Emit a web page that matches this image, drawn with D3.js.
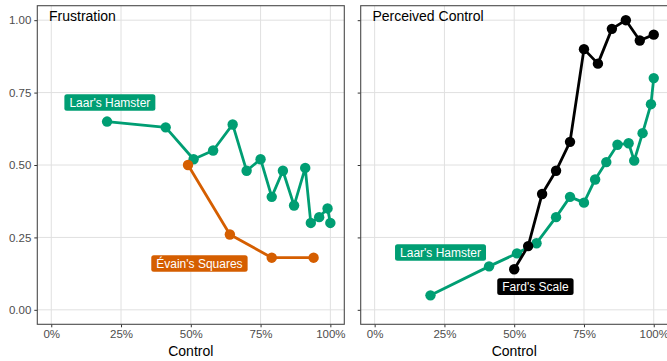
<!DOCTYPE html>
<html>
<head>
<meta charset="utf-8">
<script src="https://cdn.jsdelivr.net/npm/d3@7"></script>
<style>
  html, body { margin: 0; padding: 0; background: #fff; }
  svg { display: block; font-family: "Liberation Sans", Arial, Helvetica, sans-serif; }
</style>
</head>
<body>
<svg id="chart" width="667" height="361"></svg>
<script>
// Control levels (share of trials with control) for each task
const hamsterControl = [0.20, 0.41, 0.51, 0.58, 0.65, 0.70, 0.75, 0.79, 0.83, 0.87, 0.91, 0.93, 0.96, 0.99, 1.00];
const evainControl   = [0.49, 0.64, 0.79, 0.94];
const fardControl    = [0.50, 0.55, 0.60, 0.65, 0.70, 0.75, 0.80, 0.85, 0.90, 0.95, 1.00];

// Outcome: frustration
const hamsterFrustration = [0.65, 0.63, 0.52, 0.55, 0.64, 0.48, 0.52, 0.39, 0.48, 0.36, 0.49, 0.30, 0.32, 0.35, 0.30];
const evainFrustration   = [0.50, 0.26, 0.18, 0.18];

// Outcome: perceived control
const hamsterPerceived = [0.05, 0.15, 0.195, 0.23, 0.32, 0.39, 0.37, 0.45, 0.51, 0.57, 0.575, 0.515, 0.61, 0.71, 0.80];
const fardPerceived    = [0.14, 0.22, 0.40, 0.48, 0.58, 0.90, 0.85, 0.97, 1.00, 0.93, 0.95];

const panelTitles = ["Frustration", "Perceived Control"];
const xTicks = [0, 0.25, 0.5, 0.75, 1];
const yTicks = [0, 0.25, 0.5, 0.75, 1];
const xTitle = "Control";

const taskNames  = ["Laar's Hamster", "Évain's Squares", "Fard's Scale"];
const taskColors = ["#009E73", "#D55E00", "#000000"];

// Label anchor positions in data units, one per series in each panel
const frustrationLabels = [
  { task: 0, x: 0.21, y: 0.716 },
  { task: 1, x: 0.531, y: 0.160 }
];
const perceivedLabels = [
  { task: 0, x: 0.236, y: 0.198 },
  { task: 2, x: 0.576, y: 0.080 }
];

const zip = (xs, ys) => xs.map((x, i) => ({ x, y: ys[i] }));

const panels = [
  {
    title: panelTitles[0],
    series: [
      { task: 0, points: zip(hamsterControl, hamsterFrustration) },
      { task: 1, points: zip(evainControl, evainFrustration) }
    ],
    labels: frustrationLabels,
    left: 37.3, showYLabels: true
  },
  {
    title: panelTitles[1],
    series: [
      { task: 0, points: zip(hamsterControl, hamsterPerceived) },
      { task: 2, points: zip(fardControl, fardPerceived) }
    ],
    labels: perceivedLabels,
    left: 360.7, showYLabels: false
  }
];

const panelWidth = 307;
const plotTop = 5.7, plotBottom = 324.3;
const svg = d3.select("#chart");

const y = d3.scaleLinear().domain([-0.05, 1.05]).range([plotBottom, plotTop]);

panels.forEach(p => {
  const x = d3.scaleLinear().domain([-0.05, 1.05]).range([p.left, p.left + panelWidth]);
  const g = svg.append("g");

  // grid
  g.append("g").selectAll("line").data(xTicks).join("line")
    .attr("x1", d => x(d)).attr("x2", d => x(d))
    .attr("y1", plotTop).attr("y2", plotBottom)
    .attr("stroke", "#e0e0e0").attr("stroke-width", 1);
  g.append("g").selectAll("line").data(yTicks).join("line")
    .attr("x1", p.left).attr("x2", p.left + panelWidth)
    .attr("y1", d => y(d)).attr("y2", d => y(d))
    .attr("stroke", "#e0e0e0").attr("stroke-width", 1);

  // x axis
  const xAxis = g.append("g")
    .attr("transform", `translate(0,${plotBottom})`)
    .call(d3.axisBottom(x).tickValues(xTicks).tickFormat(d3.format(".0%"))
      .tickSizeInner(3).tickSizeOuter(0).tickPadding(3));
  xAxis.select(".domain").remove();
  xAxis.selectAll("line").attr("stroke", "#333");
  xAxis.selectAll("text").attr("fill", "#4d4d4d").style("font-size", "11.5px");
  xAxis.attr("font-family", null);

  // y axis
  const yAxis = g.append("g")
    .attr("transform", `translate(${p.left},0)`)
    .call(d3.axisLeft(y).tickValues(yTicks)
      .tickFormat(p.showYLabels ? d3.format(".2f") : () => "")
      .tickSizeInner(3).tickSizeOuter(0).tickPadding(3));
  yAxis.select(".domain").remove();
  yAxis.selectAll("line").attr("stroke", "#333");
  yAxis.selectAll("text").attr("fill", "#4d4d4d").style("font-size", "11.5px");
  yAxis.attr("font-family", null);

  // series lines and points
  const line = d3.line().x(d => x(d.x)).y(d => y(d.y));
  p.series.forEach(s => {
    const col = taskColors[s.task];
    g.append("path").datum(s.points)
      .attr("d", line).attr("fill", "none")
      .attr("stroke", col).attr("stroke-width", 2.8)
      .attr("stroke-linejoin", "round");
    g.append("g").selectAll("circle").data(s.points).join("circle")
      .attr("cx", d => x(d.x)).attr("cy", d => y(d.y))
      .attr("r", 5.2).attr("fill", col);
  });

  // series labels
  p.labels.forEach(l => {
    const lg = g.append("g").attr("transform", `translate(${x(l.x)},${y(l.y)})`);
    const rect = lg.append("rect").attr("fill", taskColors[l.task]).attr("rx", 2.5);
    const t = lg.append("text").text(taskNames[l.task])
      .attr("text-anchor", "middle").attr("dy", "0.36em")
      .attr("fill", "#fff").style("font-size", "12px");
    const w = t.node().getComputedTextLength();
    rect.attr("x", -w / 2 - 5).attr("y", -8.3).attr("width", w + 10).attr("height", 16.6);
  });

  // panel border
  g.append("rect")
    .attr("x", p.left).attr("y", plotTop)
    .attr("width", panelWidth).attr("height", plotBottom - plotTop)
    .attr("fill", "none").attr("stroke", "#4a4a4a").attr("stroke-width", 1.1);

  // panel title inside top-left corner
  g.append("text").text(p.title)
    .attr("x", p.left + 11.7).attr("y", 21)
    .attr("fill", "#000").style("font-size", "14px");

  // x axis title
  g.append("text").text(xTitle)
    .attr("x", p.left + panelWidth / 2).attr("y", 356)
    .attr("text-anchor", "middle")
    .attr("fill", "#000").style("font-size", "14px");
});
</script>
</body>
</html>
